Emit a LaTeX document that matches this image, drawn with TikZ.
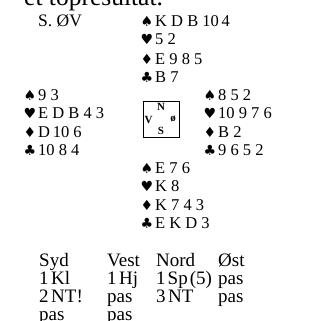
\documentclass[tikz,border=0pt]{standalone}
\usepackage{fontspec}
\setmainfont{Liberation Serif}
\newfontfamily\suitfont{DejaVu Sans}
\begin{document}
\begin{tikzpicture}[x=1pt,y=-1pt,
  hand/.style={anchor=base west,inner sep=0pt,font=\fontsize{16.5}{19}\selectfont},
  suit/.style={anchor=base west,inner sep=0pt,font=\suitfont\fontsize{14}{16}\selectfont},
  bid/.style={anchor=base west,inner sep=0pt,font=\fontsize{19}{21}\selectfont},
  dir/.style={inner sep=0pt,font=\bfseries\fontsize{11}{12}\selectfont}]
\useasboundingbox (0,0) rectangle (324,321);
% heading (clipped)
\node[anchor=base west,inner sep=0pt,font=\fontsize{25.5}{28}\selectfont] (head) at (24,6) {et topresultat.};
\node[anchor=base west,inner sep=0pt,font=\fontsize{17.5}{20}\selectfont] (deal) at (38,27) {S. ØV};
% North
\node[suit] (ns) at (140.5,27) {♠};
\node[hand] (nsv) at (155,27) {K D B 10\,4};
\node[suit] (nh) at (140.5,45) {♥};
\node[hand] (nhv) at (155,45) {5 2};
\node[suit] (nd) at (140.5,64) {♦};
\node[hand] (ndv) at (155,64) {E 9 8 5};
\node[suit] (nc) at (140.5,82) {♣};
\node[hand] (ncv) at (155,82) {B 7};
% West
\node[suit] (ws) at (23.5,100) {♠};
\node[hand] (wsv) at (38,100) {9 3};
\node[suit] (wh) at (23.5,118) {♥};
\node[hand] (whv) at (38,118) {E D B 4 3};
\node[suit] (wd) at (23.5,137) {♦};
\node[hand] (wdv) at (38,137) {D\,10 6};
\node[suit] (wc) at (23.5,155) {♣};
\node[hand] (wcv) at (38,155) {10 8 4};
% East
\node[suit] (es) at (203.5,100) {♠};
\node[hand] (esv) at (218,100) {8 5 2};
\node[suit] (eh) at (203.5,118) {♥};
\node[hand] (ehv) at (218,118) {10 9 7 6};
\node[suit] (ed) at (203.5,137) {♦};
\node[hand] (edv) at (218,137) {B 2};
\node[suit] (ec) at (203.5,155) {♣};
\node[hand] (ecv) at (218,155) {9 6 5 2};
% South
\node[suit] (ss) at (140.5,173) {♠};
\node[hand] (ssv) at (155,173) {E 7 6};
\node[suit] (sh) at (140.5,191) {♥};
\node[hand] (shv) at (155,191) {K 8};
\node[suit] (sd) at (140.5,210) {♦};
\node[hand] (sdv) at (155,210) {K 7 4 3};
\node[suit] (sc) at (140.5,228) {♣};
\node[hand] (scv) at (155,228) {E K D 3};
% compass
\node[draw,line width=0.8pt,minimum size=36pt,inner sep=0pt] (box) at (161.5,119) {};
\node[dir] (cn) at (161,107) {N};
\node[dir] (cv) at (148.5,119.5) {V};
\node[dir] (ce) at (173,118.5) {ø};
\node[dir] (cs) at (161,130.5) {S};
% bidding
\node[bid] (b11) at (39,266) {Syd};
\node[bid] (b12) at (39,284) {1\kern2.5pt Kl};
\node[bid] (b13) at (39,302) {2\kern2.5pt NT!};
\node[bid] (b14) at (39,320) {pas};
\node[bid] (b21) at (107,266) {Vest};
\node[bid] (b22) at (107,284) {1\kern2.5pt Hj};
\node[bid] (b23) at (107,302) {pas};
\node[bid] (b24) at (107,320) {pas};
\node[bid] (b31) at (156,266) {Nord};
\node[bid] (b32) at (156,284) {1\kern2pt Sp\kern2pt (5)};
\node[bid] (b33) at (156,302) {3\kern2.5pt NT};
\node[bid] (b41) at (218,266) {Øst};
\node[bid] (b42) at (218,284) {pas};
\node[bid] (b43) at (218,302) {pas};
\end{tikzpicture}
\end{document}
